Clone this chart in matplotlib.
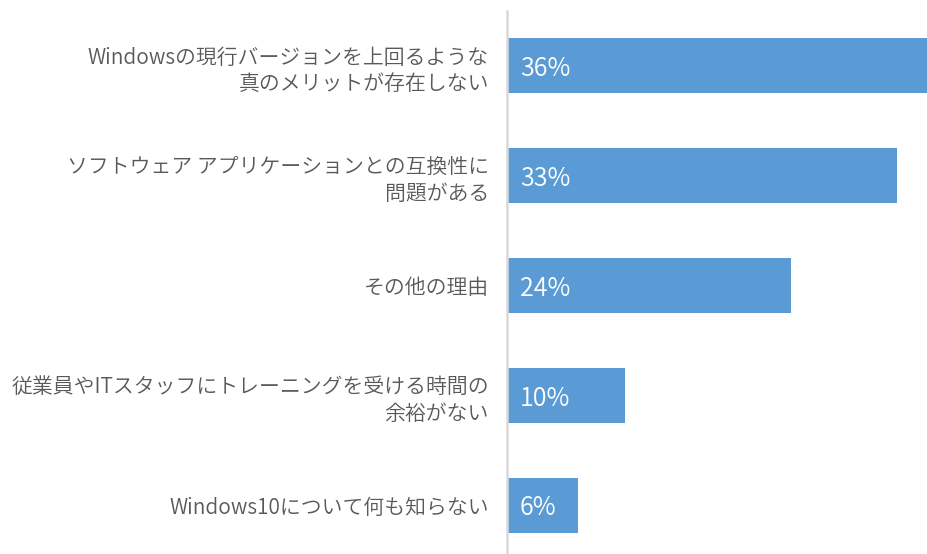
import matplotlib.pyplot as plt

plt.rcParams['font.family'] = ['Noto Sans CJK JP', 'DejaVu Sans']

# Data
reasons = [
    "Windowsの現行バージョンを上回るような\n真のメリットが存在しない",
    "ソフトウェア アプリケーションとの互換性に\n問題がある",
    "その他の理由",
    "従業員やITスタッフにトレーニングを受ける時間の\n余裕がない",
    "Windows10について何も知らない",
]
percents = [36, 33, 24, 10, 6]

bar_color = "#5B9BD5"
label_color = "#595959"

fig = plt.figure(figsize=(9.28, 5.54), dpi=100)
ax = fig.add_axes([507 / 928, 1 - 560 / 554, 1 - 507 / 928, 549 / 554])

ypos = list(range(len(reasons)))
ax.barh(ypos, percents, height=0.5, color=bar_color)

for y, p in zip(ypos, percents):
    ax.text(1.1, y + 0.03, f"{p}%", color="white", fontsize=18,
            fontweight=350, va="center", ha="left")

ax.set_xlim(0, 421 / 11.82)
ax.set_ylim(len(reasons) - 0.5, -0.5)

ax.set_yticks(ypos)
ax.set_yticklabels(reasons, fontsize=15, color=label_color,
                   linespacing=1.3, fontweight=350)
ax.tick_params(axis='y', length=0, pad=13)
ax.set_xticks([])

for s in ["top", "right", "bottom"]:
    ax.spines[s].set_visible(False)
ax.spines["left"].set_color("#d9d9d9")
ax.spines["left"].set_linewidth(1.8)

fig.savefig("out.png", dpi=100)
